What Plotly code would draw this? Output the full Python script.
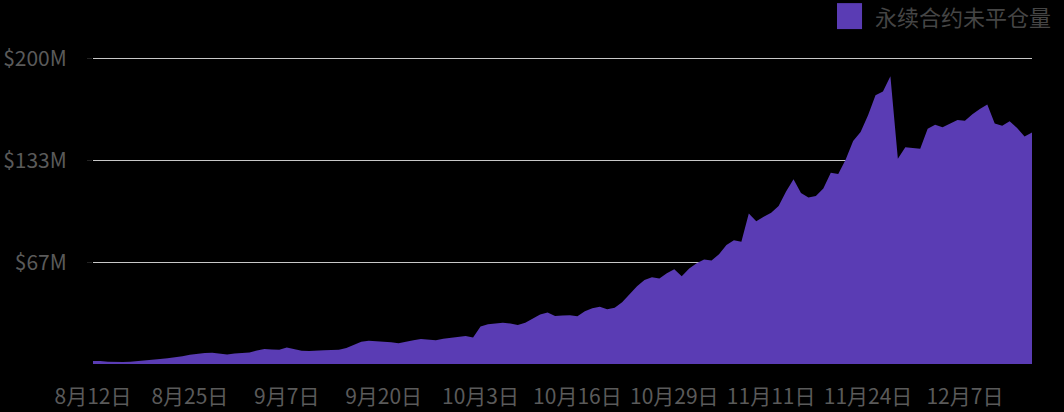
import pandas as pd
import plotly.graph_objects as go

# Perpetual contract open interest, $M, one value per day from Aug 12
oi_values = [
    2.0, 2.0, 1.5, 1.2, 1.3, 1.4, 2.0, 2.6, 3.0, 3.3,
    3.8, 4.2, 5.0, 6.0, 6.8, 7.2, 7.4, 6.8, 6.3, 6.8,
    7.2, 7.6, 8.8, 9.8, 9.5, 9.3, 10.8, 9.6, 8.6, 8.5,
    8.9, 9.0, 9.2, 9.3, 10.5, 12.5, 14.5, 15.2, 15.0, 14.8,
    14.2, 13.6, 14.8, 15.6, 16.4, 16.0, 15.5, 16.5, 17.2, 18.0,
    18.4, 17.4, 24.5, 26.0, 26.6, 27.0, 26.5, 25.6, 27.0, 29.5,
    32.5, 33.8, 31.5, 31.8, 32.0, 31.2, 34.5, 36.5, 37.5, 35.8,
    36.8, 40.5, 45.5, 51.0, 55.0, 56.8, 56.0, 59.5, 62.0, 57.5,
    62.5, 66.0, 68.5, 67.8, 71.8, 78.0, 81.0, 80.0, 98.5, 93.5,
    96.4, 99.0, 103.5, 113.0, 121.0, 112.0, 109.0, 110.0, 115.0, 125.3,
    124.5, 134.0, 146.0, 152.0, 163.0, 176.0, 178.5, 188.5, 134.5, 142.0,
    141.5, 141.0, 154.0, 156.7, 155.0, 157.5, 159.8, 159.3, 163.5, 167.0,
    170.0, 157.5, 156.0, 159.0, 154.5, 149.0, 151.6,
]
start_date = "2020-08-12"
dates = pd.date_range(start_date, periods=len(oi_values), freq="D")

tick_dates = ["2020-08-12", "2020-08-25", "2020-09-07", "2020-09-20", "2020-10-03",
              "2020-10-16", "2020-10-29", "2020-11-11", "2020-11-24", "2020-12-07"]
tick_labels = ["8月12日", "8月25日", "9月7日", "9月20日", "10月3日",
               "10月16日", "10月29日", "11月11日", "11月24日", "12月7日"]

y_tickvals = [200 / 3, 400 / 3, 200]
y_ticktext = ["$67M", "$133M", "$200M"]

series_name = "永续合约未平仓量"

PURPLE = "#5a3cb4"
FONT = "Noto Sans CJK SC"

fig = go.Figure()
fig.add_trace(
    go.Scatter(
        x=dates,
        y=oi_values,
        mode="lines",
        line=dict(width=0, color=PURPLE),
        fill="tozeroy",
        fillcolor=PURPLE,
        name=series_name,
        showlegend=False,
        hoverinfo="skip",
    )
)

# legend swatch + label (drawn by hand to get the large square)
# plot area spans 313px vertically (y 51..364), so paper y = (364 - px) / 313
fig.add_shape(
    type="rect", xref="paper", yref="paper",
    x0=0.7923, x1=0.819, y0=1.070, y1=1.153,
    fillcolor=PURPLE, line=dict(width=0),
)
fig.add_annotation(
    text=series_name, xref="paper", yref="paper",
    x=0.8308, y=1.112, xanchor="left", yanchor="middle",
    showarrow=False, font=dict(family=FONT, size=22, color="#454545"),
)

fig.update_layout(
    width=1064,
    height=412,
    margin=dict(l=93, r=32, t=51, b=48, pad=0),
    paper_bgcolor="black",
    plot_bgcolor="black",
    font=dict(family=FONT, color="#5a5a5a"),
    xaxis=dict(
        range=[dates[0], dates[-1]],
        tickvals=tick_dates,
        ticktext=tick_labels,
        showgrid=False,
        zeroline=False,
        showline=False,
        ticks="",
        tickfont=dict(family=FONT, size=21, color="#5a5a5a"),
        ticklabelstandoff=18,
        automargin=False,
    ),
    yaxis=dict(
        range=[0, 205],
        tickvals=y_tickvals,
        ticktext=y_ticktext,
        showgrid=True,
        gridcolor="#c8c8c8",
        gridwidth=1,
        zeroline=False,
        showline=False,
        ticks="outside",
        ticklen=5,
        tickcolor="#222",
        tickfont=dict(family=FONT, size=21, color="#5a5a5a"),
        ticklabelstandoff=16,
        automargin=False,
    ),
)

fig.write_html(
    "out.html",
    config={"displayModeBar": False},
    post_script="document.body.style.margin='0';document.body.style.background='black';",
)
